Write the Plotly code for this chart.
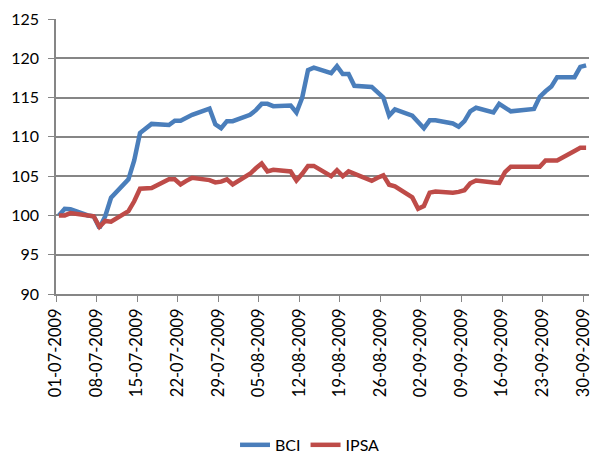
import pandas as pd
import plotly.graph_objects as go

# trading days (Chile, 16-07 and 18-09 are holidays)
dates = [
    "2009-07-01", "2009-07-02", "2009-07-03", "2009-07-06", "2009-07-07", "2009-07-08",
    "2009-07-09", "2009-07-10", "2009-07-13", "2009-07-14", "2009-07-15", "2009-07-17",
    "2009-07-20", "2009-07-21", "2009-07-22", "2009-07-23", "2009-07-24", "2009-07-27",
    "2009-07-28", "2009-07-29", "2009-07-30", "2009-07-31", "2009-08-03", "2009-08-04",
    "2009-08-05", "2009-08-06", "2009-08-07", "2009-08-10", "2009-08-11", "2009-08-12",
    "2009-08-13", "2009-08-14", "2009-08-17", "2009-08-18", "2009-08-19", "2009-08-20",
    "2009-08-21", "2009-08-24", "2009-08-25", "2009-08-26", "2009-08-27", "2009-08-28",
    "2009-08-31", "2009-09-01", "2009-09-02", "2009-09-03", "2009-09-04", "2009-09-07",
    "2009-09-08", "2009-09-09", "2009-09-10", "2009-09-11", "2009-09-14", "2009-09-15",
    "2009-09-16", "2009-09-17", "2009-09-21", "2009-09-22", "2009-09-23", "2009-09-24",
    "2009-09-25", "2009-09-28", "2009-09-29", "2009-09-30",
]

bci = [
    100.0, 100.85, 100.8, 100.0, 99.9, 98.4,
    99.9, 102.25, 104.6, 107.0, 110.5, 111.65,
    111.5, 112.05, 112.05, 112.45, 112.8, 113.6,
    111.6, 111.1, 112.0, 112.0, 112.8, 113.4,
    114.2, 114.2, 113.9, 114.0, 113.1, 115.0,
    118.5, 118.8, 118.1, 119.0, 118.0, 118.0,
    116.5, 116.35, 115.7, 115.0, 112.7, 113.5,
    112.7, 111.95, 111.1, 112.1, 112.1, 111.7,
    111.3, 112.0, 113.25, 113.7, 113.1, 114.2,
    113.7, 113.25, 113.55, 115.1, 115.8, 116.4,
    117.6, 117.6, 118.9, 119.1,
]

ipsa = [
    100.0, 100.0, 100.3, 100.1, 99.9, 98.55,
    99.3, 99.2, 100.55, 101.8, 103.4, 103.5,
    104.6, 104.6, 103.95, 104.4, 104.8, 104.5,
    104.2, 104.3, 104.6, 103.95, 105.3, 106.0,
    106.6, 105.6, 105.8, 105.6, 104.45, 105.3,
    106.3, 106.3, 105.0, 105.75, 105.0, 105.6,
    105.3, 104.4, 104.8, 105.1, 103.9, 103.7,
    102.3, 100.85, 101.2, 102.9, 103.05, 102.9,
    103.0, 103.2, 104.1, 104.45, 104.2, 104.15,
    105.5, 106.2, 106.2, 106.2, 107.0, 107.0,
    107.0, 108.2, 108.6, 108.6,
]

tick_dates = pd.date_range("2009-07-01", "2009-09-30", freq="7D")

# excel date axis puts each point in the middle of its day
x = pd.to_datetime(dates) + pd.Timedelta(hours=12)

grid = "#868686"
font = "Lato, Calibri, sans-serif"

fig = go.Figure()
fig.add_trace(go.Scatter(x=x, y=bci, name="BCI", mode="lines",
                         line=dict(color="#4A7EBB", width=4.5)))
fig.add_trace(go.Scatter(x=x, y=ipsa, name="IPSA", mode="lines",
                         line=dict(color="#BE4B48", width=4.5)))

fig.update_layout(
    width=602, height=454,
    margin=dict(l=56, r=9, t=18, b=160),
    paper_bgcolor="white", plot_bgcolor="white",
    font=dict(family=font, size=16, color="#000000"),
    showlegend=True,
    legend=dict(orientation="h", xref="container", yref="container",
                x=0.515, xanchor="center", y=0.02, yanchor="middle",
                font=dict(size=16), itemwidth=30),
)

fig.update_xaxes(
    type="date",
    range=["2009-07-01", "2009-10-01"],
    tickvals=tick_dates,
    ticktext=[d.strftime("%d-%m-%Y") for d in tick_dates],
    tickangle=-90, tickfont=dict(size=16.5),
    ticks="outside", ticklen=6, tickcolor=grid,
    showline=True, linecolor=grid, linewidth=1.5,
    showgrid=False, zeroline=False,
)
fig.update_yaxes(
    range=[90, 125], dtick=5,
    ticks="outside", ticklen=6, tickcolor=grid,
    showline=True, linecolor=grid, linewidth=1.5,
    showgrid=True, gridcolor=grid, gridwidth=1.5,
    zeroline=False, ticklabelstandoff=6,
)

# drop the browser's default body margin so the figure sits at 0,0
fig.write_html("out.html", config={"displayModeBar": False},
               post_script="document.body.style.margin='0';")
